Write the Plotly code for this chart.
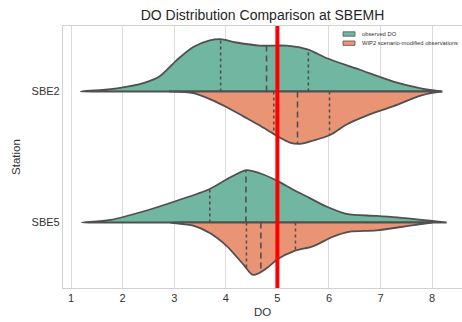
import numpy as np
import plotly.graph_objects as go

# ---- data ----
stations = ["SBE2", "SBE5"]
series_names = ["observed DO", "WIP2 scenario-modified observations"]
x_ticks = [1, 2, 3, 4, 5, 6, 7, 8]
threshold_do = 5.0

# relative kernel density (max = 1) along DO values, per station / series
sbe2_obs_do = [1.19, 1.6, 1.95, 2.4, 2.72, 3.05, 3.37, 3.69, 3.89, 4.21, 4.66, 5.18, 5.6, 5.95, 6.6, 7.25, 7.76, 8.18]
sbe2_obs_dens = [0.0, 0.03, 0.068, 0.16, 0.29, 0.6, 0.85, 0.975, 1.0, 0.935, 0.875, 0.875, 0.8, 0.64, 0.415, 0.19, 0.065, 0.0]
sbe2_mod_do = [2.9, 3.2, 3.37, 3.69, 4.02, 4.34, 4.66, 4.95, 5.24, 5.44, 5.7, 6.02, 6.34, 6.73, 7.25, 7.76, 8.0, 8.2]
sbe2_mod_dens = [0.0, 0.01, 0.03, 0.145, 0.3, 0.475, 0.65, 0.825, 0.975, 1.0, 0.935, 0.83, 0.63, 0.46, 0.28, 0.085, 0.025, 0.0]
sbe5_obs_do = [1.21, 1.76, 2.4, 3.05, 3.69, 4.02, 4.4, 4.66, 4.99, 5.31, 5.63, 5.95, 6.34, 6.92, 7.57, 8.0, 8.28]
sbe5_obs_dens = [0.0, 0.05, 0.21, 0.415, 0.64, 0.825, 1.0, 0.94, 0.8, 0.625, 0.465, 0.305, 0.165, 0.125, 0.075, 0.03, 0.0]
sbe5_mod_do = [2.92, 3.37, 3.69, 4.02, 4.34, 4.53, 4.79, 5.0, 5.31, 5.7, 6.08, 6.41, 6.92, 7.57, 8.0]
sbe5_mod_dens = [0.0, 0.06, 0.2, 0.45, 0.8, 1.0, 0.875, 0.7, 0.55, 0.45, 0.27, 0.175, 0.15, 0.06, 0.0]

# quartiles (Q1, median, Q3)
sbe2_obs_q = [3.90, 4.79, 5.60]
sbe2_mod_q = [4.93, 5.39, 6.01]
sbe5_obs_q = [3.69, 4.39, 5.00]
sbe5_mod_q = [4.40, 4.68, 5.35]

# ---- styling ----
colors = ["#71b6a1", "#e99575"]
edge = "#505050"
half_width = 0.4
W, H = 462, 322
ML, MR, MT, MB = 63, 0, 26, 34

fig = go.Figure()

halves = [
    (0, 0, sbe2_obs_do, sbe2_obs_dens, sbe2_obs_q),
    (0, 1, sbe2_mod_do, sbe2_mod_dens, sbe2_mod_q),
    (1, 0, sbe5_obs_do, sbe5_obs_dens, sbe5_obs_q),
    (1, 1, sbe5_mod_do, sbe5_mod_dens, sbe5_mod_q),
]

for pos, side, xs, dens, q in halves:
    sign = -1 if side == 0 else 1
    xs = np.array(xs, dtype=float)
    d = np.array(dens, dtype=float)
    ys = pos + sign * half_width * d
    fig.add_trace(go.Scatter(
        x=list(xs) + list(xs[::-1]),
        y=list(ys) + [pos] * len(xs),
        mode="lines", fill="toself", fillcolor=colors[side],
        line=dict(color=edge, width=1.8, shape="spline", smoothing=0.8),
        name=series_names[side], showlegend=False, hoverinfo="skip",
    ))

for pos, side, xs, dens, q in halves:
    sign = -1 if side == 0 else 1
    for i, qv in enumerate(q):
        h = np.interp(qv, xs, dens) * half_width
        fig.add_trace(go.Scatter(
            x=[qv, qv], y=[pos, pos + sign * h], mode="lines",
            line=dict(color=edge, width=1.6,
                      dash="6px,4px" if i == 1 else "3px,3px"),
            showlegend=False, hoverinfo="skip",
        ))

fig.add_shape(type="line", x0=threshold_do, x1=threshold_do, y0=0, y1=1,
              xref="x", yref="paper", line=dict(color="#ff0000", width=4),
              layer="above")

# manual legend (patches + labels) in paper coordinates
pw, ph = W - ML - MR, H - MT - MB
def px2x(p):
    return (p - ML) / pw
def px2y(p):
    return (H - MB - p) / ph

legend_rows = [34.0, 43.2]
for (row_y, name, col) in zip(legend_rows, series_names, colors):
    fig.add_shape(type="rect", xref="paper", yref="paper",
                  x0=px2x(343), x1=px2x(355), y0=px2y(row_y + 2.2), y1=px2y(row_y - 2.2),
                  fillcolor=col, line=dict(color=edge, width=0.8), layer="above")
    fig.add_annotation(text=name, xref="paper", yref="paper", x=px2x(359.5), y=px2y(row_y),
                       xanchor="left", yanchor="middle", showarrow=False,
                       font=dict(size=5.8, color="#333333"))

fig.update_layout(
    width=W, height=H,
    margin=dict(l=ML, r=MR, t=MT, b=MB, autoexpand=False),
    paper_bgcolor="white", plot_bgcolor="white", showlegend=False,
    font=dict(family="Liberation Sans, Arial, sans-serif", color="#333333", size=11),
    title=dict(text="DO Distribution Comparison at SBEMH", x=0.5, xref="paper",
               y=1 - 15 / 322, yref="container", yanchor="middle",
               font=dict(size=14, color="#262626")),
    xaxis=dict(range=[0.845, 8.578], tickvals=x_ticks, showgrid=True,
               gridcolor="#dcdcdc", gridwidth=1, zeroline=False,
               showline=True, linecolor="#d0d0d0", linewidth=1.2, mirror=True,
               ticks="", automargin=False,
               title=dict(text="DO", standoff=4, font=dict(size=11.5)),
               tickfont=dict(size=11)),
    yaxis=dict(range=[1.5, -0.5], tickvals=[0, 1], ticktext=stations,
               showgrid=False, zeroline=False, showline=True,
               linecolor="#d0d0d0", linewidth=1.2, ticks="", automargin=False,
               title=dict(text="Station", standoff=8, font=dict(size=11.5)),
               tickfont=dict(size=11)),
)

fig.write_html("out.html", config={"displayModeBar": False},
               post_script="document.body.style.margin='0';document.body.style.overflow='hidden';")
